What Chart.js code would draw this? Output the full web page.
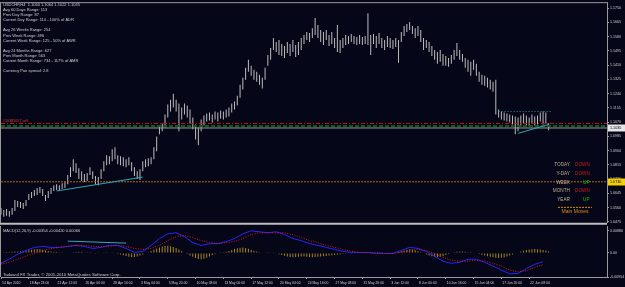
<!DOCTYPE html>
<html lang="en">
<head>
<meta charset="UTF-8">
<title>USDCHF,H4</title>
<script src="https://cdn.jsdelivr.net/npm/chart.js"></script>
<style>
  html, body { margin: 0; padding: 0; background: #060619; overflow: hidden; }
  #wrap { position: relative; width: 625px; height: 287px; }
  .pane { position: absolute; left: 0; width: 625px; }
  #mainPane { top: 0; height: 226px; }
  #macdPane { top: 222px; height: 65px; }
</style>
</head>
<body>
<div id="wrap">
  <div class="pane" id="mainPane"><canvas id="mainChart" width="625" height="226"></canvas></div>
  <div class="pane" id="macdPane"><canvas id="macdChart" width="625" height="65"></canvas></div>
</div>
<script>
// H4 bars, high / low
const barHigh = [
  1.0558, 1.0546, 1.0552, 1.0540, 1.0558, 1.0605, 1.0599, 1.0594, 1.0588, 1.0605,
  1.0641, 1.0653, 1.0665, 1.0677, 1.0683, 1.0671, 1.0635, 1.0659, 1.0677, 1.0694,
  1.0700, 1.0694, 1.0706, 1.0712, 1.0754, 1.0801, 1.0849, 1.0825, 1.0795, 1.0777,
  1.0760, 1.0766, 1.0801, 1.0777, 1.0748, 1.0742, 1.0789, 1.0837, 1.0872, 1.0866,
  1.0908, 1.0920, 1.0872, 1.0866, 1.0860, 1.0849, 1.0860, 1.0831, 1.0801, 1.0777,
  1.0789, 1.0837, 1.0849, 1.0855, 1.0860, 1.0920, 1.0985, 1.1050, 1.1062, 1.1115,
  1.1175, 1.1204, 1.1240, 1.1204, 1.1181, 1.1157, 1.1181, 1.1169, 1.1145, 1.1098,
  1.1056, 1.1038, 1.1086, 1.1110, 1.1121, 1.1127, 1.1115, 1.1133, 1.1127, 1.1139,
  1.1133, 1.1145, 1.1157, 1.1181, 1.1193, 1.1228, 1.1293, 1.1335, 1.1394, 1.1442,
  1.1406, 1.1382, 1.1370, 1.1353, 1.1335, 1.1394, 1.1471, 1.1513, 1.1572, 1.1548,
  1.1560, 1.1537, 1.1525, 1.1548, 1.1537, 1.1560, 1.1531, 1.1548, 1.1572, 1.1590,
  1.1608, 1.1602, 1.1631, 1.1691, 1.1649, 1.1620, 1.1608, 1.1620, 1.1590, 1.1608,
  1.1572, 1.1649, 1.1560, 1.1572, 1.1590, 1.1584, 1.1596, 1.1584, 1.1578, 1.1590,
  1.1578, 1.1584, 1.1720, 1.1590, 1.1596, 1.1584, 1.1602, 1.1572, 1.1560, 1.1584,
  1.1572, 1.1560, 1.1572, 1.1560, 1.1608, 1.1643, 1.1655, 1.1667, 1.1643, 1.1631,
  1.1643, 1.1620, 1.1572, 1.1560, 1.1548, 1.1525, 1.1501, 1.1489, 1.1501, 1.1477,
  1.1465, 1.1453, 1.1471, 1.1501, 1.1542, 1.1501, 1.1477, 1.1453, 1.1442, 1.1430,
  1.1442, 1.1418, 1.1370, 1.1353, 1.1347, 1.1335, 1.1323, 1.1311, 1.1323, 1.1145,
  1.1133, 1.1127, 1.1121, 1.1115, 1.1110, 1.1104, 1.1098, 1.1110, 1.1121, 1.1110,
  1.1098, 1.1115, 1.1104, 1.1110, 1.1127, 1.1133, 1.1127, 1.1064
];
const barLow = [
  1.0517, 1.0505, 1.0511, 1.0505, 1.0517, 1.0540, 1.0564, 1.0558, 1.0552, 1.0570,
  1.0605, 1.0617, 1.0629, 1.0635, 1.0647, 1.0629, 1.0599, 1.0617, 1.0641, 1.0659,
  1.0665, 1.0659, 1.0671, 1.0677, 1.0700, 1.0742, 1.0777, 1.0766, 1.0730, 1.0718,
  1.0712, 1.0718, 1.0754, 1.0730, 1.0700, 1.0694, 1.0730, 1.0777, 1.0813, 1.0819,
  1.0837, 1.0849, 1.0819, 1.0813, 1.0807, 1.0801, 1.0813, 1.0777, 1.0748, 1.0730,
  1.0724, 1.0777, 1.0801, 1.0807, 1.0819, 1.0849, 1.0896, 1.0997, 1.1015, 1.1038,
  1.1098, 1.1133, 1.1157, 1.1133, 1.1015, 1.1086, 1.1115, 1.1098, 1.1062, 1.1027,
  1.0967, 1.0932, 1.1015, 1.1050, 1.1074, 1.1080, 1.1068, 1.1086, 1.1074, 1.1092,
  1.1086, 1.1098, 1.1104, 1.1127, 1.1145, 1.1169, 1.1216, 1.1264, 1.1323, 1.1370,
  1.1347, 1.1323, 1.1311, 1.1293, 1.1270, 1.1323, 1.1406, 1.1442, 1.1501, 1.1489,
  1.1471, 1.1465, 1.1453, 1.1483, 1.1465, 1.1489, 1.1459, 1.1471, 1.1501, 1.1537,
  1.1560, 1.1548, 1.1572, 1.1590, 1.1572, 1.1548, 1.1531, 1.1560, 1.1525, 1.1537,
  1.1513, 1.1489, 1.1483, 1.1513, 1.1531, 1.1537, 1.1548, 1.1537, 1.1531, 1.1537,
  1.1531, 1.1537, 1.1531, 1.1471, 1.1537, 1.1513, 1.1537, 1.1513, 1.1501, 1.1519,
  1.1513, 1.1507, 1.1519, 1.1424, 1.1548, 1.1584, 1.1608, 1.1620, 1.1596, 1.1572,
  1.1584, 1.1548, 1.1501, 1.1513, 1.1489, 1.1465, 1.1442, 1.1418, 1.1430, 1.1406,
  1.1406, 1.1400, 1.1418, 1.1442, 1.1465, 1.1442, 1.1430, 1.1394, 1.1370, 1.1347,
  1.1382, 1.1347, 1.1311, 1.1293, 1.1287, 1.1276, 1.1264, 1.1252, 1.1115, 1.1098,
  1.1086, 1.1080, 1.1074, 1.1068, 1.1056, 1.0997, 1.1015, 1.1044, 1.1062, 1.1050,
  1.1044, 1.1062, 1.1050, 1.1056, 1.1074, 1.1056, 1.1062, 1.1022
];

// MACD(12,26,9): main and signal sampled every 3rd bar, histogram per bar
const macdMain = [
  -0.0041, -0.0025, -0.0005, 0.0010, 0.0022, 0.0026, 0.0022, 0.0022, 0.0026, 0.0030,
  0.0026, 0.0018, 0.0022, 0.0030, 0.0030, 0.0018, 0.0002, 0.0006, 0.0030, 0.0057,
  0.0076, 0.0080, 0.0065, 0.0041, 0.0030, 0.0037, 0.0037, 0.0045, 0.0057, 0.0076,
  0.0088, 0.0084, 0.0080, 0.0084, 0.0073, 0.0057, 0.0049, 0.0037, 0.0030, 0.0022,
  0.0014, 0.0006, 0.0002, 0.0002, 0.0002, -0.0002, -0.0002, -0.0002, 0.0010, 0.0022,
  0.0018, 0.0006, -0.0013, -0.0033, -0.0041, -0.0037, -0.0025, -0.0025, -0.0037, -0.0052,
  -0.0068, -0.0083, -0.0081, -0.0062, -0.0045, -0.0035
];
const macdSignal = [
  -0.0044, -0.0037, -0.0025, -0.0013, -0.0002, 0.0010, 0.0018, 0.0022, 0.0026, 0.0030,
  0.0030, 0.0026, 0.0026, 0.0026, 0.0030, 0.0026, 0.0018, 0.0014, 0.0018, 0.0030,
  0.0049, 0.0065, 0.0069, 0.0061, 0.0049, 0.0041, 0.0037, 0.0041, 0.0045, 0.0057,
  0.0073, 0.0080, 0.0080, 0.0080, 0.0080, 0.0073, 0.0061, 0.0049, 0.0041, 0.0030,
  0.0022, 0.0014, 0.0006, 0.0002, 0.0002, 0.0002, -0.0002, -0.0002, 0.0002, 0.0010,
  0.0014, 0.0010, -0.0002, -0.0017, -0.0029, -0.0033, -0.0033, -0.0029, -0.0033, -0.0041,
  -0.0052, -0.0068, -0.0075, -0.0070, -0.0058, -0.0046
];
const macdHist = [
  0.0002, 0.0003, 0.0004, 0.0004, 0.0005, 0.0006, 0.0006, 0.0007, 0.0008, 0.0009,
  0.0011, 0.0013, 0.0015, 0.0016, 0.0015, 0.0013,
  0.0010, 0.0008, 0.0006, 0.0005, 0.0004, 0.0003, 0.0003, 0.0002, 0.0002,
  0.0002, 0.0003, 0.0004, 0.0005, 0.0004, 0.0002, 0.0001, 0.0001, 0.0000, -0.0001, 0.0001, 0.0002, 0.0003, 0.0003, 0.0002, 0.0001,
  -0.0002, -0.0004, -0.0006, -0.0009, -0.0012, -0.0015, -0.0017, -0.0016, -0.0014, -0.0010,
  -0.0006, -0.0002, 0.0003, 0.0008, 0.0013,
  0.0018, 0.0022, 0.0026, 0.0028, 0.0029, 0.0027, 0.0024, 0.0020,
  0.0014, 0.0008, 0.0002, -0.0004, -0.0010,
  -0.0015, -0.0020, -0.0024, -0.0025, -0.0023, -0.0019, -0.0014,
  -0.0009, -0.0005, -0.0002, 0.0001, 0.0003, 0.0005, 0.0008,
  0.0012, 0.0016, 0.0019, 0.0021, 0.0022, 0.0020, 0.0017, 0.0013,
  0.0009, 0.0006, 0.0003, 0.0002, 0.0002, 0.0003, 0.0002,
  0.0001, -0.0002, -0.0005, -0.0008, -0.0011, -0.0014, -0.0016, -0.0017, -0.0016, -0.0015, -0.0014,
  -0.0014, -0.0015, -0.0016, -0.0017, -0.0016, -0.0015, -0.0014, -0.0013, -0.0012, -0.0010, -0.0009, -0.0008, -0.0007, -0.0006, -0.0004, -0.0003, -0.0002,
  -0.0001, 0.0000, 0.0001, 0.0001, 0.0002, 0.0001, 0.0000, -0.0001, -0.0001, 0.0000, 0.0001, 0.0001, 0.0000, -0.0001, 0.0000, 0.0001, 0.0002, 0.0004,
  0.0007, 0.0010, 0.0013, 0.0015, 0.0014, 0.0011, 0.0007, 0.0003,
  -0.0002, -0.0006, -0.0010, -0.0013, -0.0015, -0.0016, -0.0015, -0.0012, -0.0008, -0.0004,
  0.0000, 0.0003, 0.0005, 0.0006, 0.0006, 0.0005, 0.0003, 0.0001, 0.0000,
  -0.0002, -0.0004, -0.0007, -0.0010, -0.0013, -0.0015, -0.0017, -0.0019, -0.0020, -0.0019, -0.0017, -0.0014, -0.0010, -0.0006, -0.0002, 0.0002,
  0.0006, 0.0009, 0.0012, 0.0014, 0.0015, 0.0016, 0.0015, 0.0014, 0.0012, 0.0010, 0.0007
];

const priceTicks = [1.1750, 1.1665, 1.1580, 1.1495, 1.1410, 1.1325, 1.1240, 1.1155, 1.1070,
  1.0985, 1.0900, 1.0815, 1.0730, 1.0645, 1.0560, 1.0475];
const macdTicks = [-0.00954, 0, 0.00880];
const timeLabels = ['14 Apr 2010', '18 Apr 23:00', '21 Apr 12:00', '26 Apr 00:00', '28 Apr 16:00',
  '3 May 04:00', '5 May 20:00', '10 May 08:00', '13 May 00:00', '17 May 12:00', '20 May 04:00',
  '24 May 16:00', '27 May 08:00', '31 May 20:00', '3 Jun 12:00', '8 Jun 00:00', '10 Jun 16:00',
  '15 Jun 04:00', '17 Jun 20:00', '22 Jun 08:00'];
const timeTickBars = [0, 10, 20, 30, 40, 50, 60, 70, 80, 90, 100, 110, 120, 130, 140, 150, 160, 170, 180, 190];

// chart objects
const orderLevel = 1.1062;
const stopLevel = 1.1047;
const bidLevel = 1.1035;
const weekLevel = 1.0714;
const trendLow = [{ x: 20, y: 1.0659 }, { x: 51, y: 1.0742 }];
const trendEnd = [{ x: 186, y: 1.1003 }, { x: 197, y: 1.1056 }];
const rangeTop = [{ x: 179, y: 1.1133 }, { x: 198, y: 1.1133 }];
const macdTrend = [{ x: 24, y: 0.0047 }, { x: 45, y: 0.0039 }];

const infoLines = ['USDCHF,H4  1.1060 1.1064 1.1022 1.1035', 'Avg 60 Days Range: 113', 'Prev Day Range: 87',
  'Current Day Range: 114 - 100% of ADR', '', 'Avg 26 Weeks Range: 254', 'Prev Week Range: 496',
  'Current Week Range: 125 - 50% of AWR', '', 'Avg 24 Months Range: 627', 'Prev Month Range: 563',
  'Current Month Range: 734 - 117% of AMR', '', 'Currency Pair spread: 2.8'];
const moveRows = [['TODAY', 'DOWN'], ['Y-DAY', 'DOWN'], ['WEEK', 'UP'], ['MONTH', 'DOWN'], ['YEAR', 'UP']];

const FONT = '"Liberation Sans", Arial, sans-serif';
const AXIS = '#9a9a9a';
const TXT = '#cfcfcf';
const X_MAX = 218;

function levelLine(value, color, dash, width) {
  return {
    type: 'line', data: [{ x: 0, y: value }, { x: X_MAX, y: value }],
    borderColor: color, borderDash: dash, borderWidth: width, pointRadius: 0, order: 1
  };
}
function segment(points, color, dash) {
  return { type: 'line', data: points, borderColor: color, borderDash: dash, borderWidth: 1, pointRadius: 0, order: 0 };
}

const mainOverlay = {
  id: 'mainOverlay',
  afterDraw(chart) {
    const { ctx, chartArea: a, scales: { y } } = chart;
    ctx.save();
    ctx.strokeStyle = AXIS;
    ctx.lineWidth = 1;
    ctx.beginPath();
    ctx.moveTo(0, a.top - 0.5); ctx.lineTo(a.right + 1, a.top - 0.5);
    ctx.moveTo(0.5, a.top); ctx.lineTo(0.5, a.bottom);
    ctx.stroke();
    ctx.strokeStyle = '#bdbdbd';
    ctx.lineWidth = 2;
    ctx.beginPath(); ctx.moveTo(0, a.bottom + 1); ctx.lineTo(a.right, a.bottom + 1); ctx.stroke();

    ctx.textBaseline = 'middle';
    ctx.textAlign = 'left';
    ctx.font = '4px ' + FONT;
    ctx.fillStyle = TXT;
    infoLines.forEach((t, i) => { if (t) ctx.fillText(t, a.left + 2, a.top + 1.5 + i * 5.13); });

    ctx.font = '3.7px ' + FONT;
    ctx.fillStyle = '#d04040';
    ctx.fillText('#10385057 sell', a.left + 2, y.getPixelForValue(orderLevel) - 2);

    // price markers on the axis
    [[bidLevel, '1.1035', '#e6e6e6'], [weekLevel, '1.0730', '#f2d000']].forEach(([v, t, bg]) => {
      const py = Math.round(y.getPixelForValue(v));
      ctx.fillStyle = bg;
      ctx.fillRect(a.right + 1, py - 3.5, 17, 7);
      ctx.fillStyle = '#000';
      ctx.font = '3.7px ' + FONT;
      ctx.fillText(t, a.right + 3, py);
    });

    // main moves panel
    const rowY = [-58, -49, -40.5, -32, -23];
    moveRows.forEach(([k, v], i) => {
      ctx.font = '4.7px ' + FONT;
      ctx.textAlign = 'right';
      ctx.fillStyle = '#bfae8e';
      ctx.fillText(k, a.right - 37, a.bottom + rowY[i]);
      ctx.textAlign = 'left';
      ctx.fillStyle = v === 'UP' ? '#14c014' : '#d01818';
      ctx.fillText(v, v === 'UP' ? a.right - 24 : a.right - 32, a.bottom + rowY[i]);
    });
    ctx.strokeStyle = '#e08c10';
    ctx.lineWidth = 1;
    ctx.setLineDash([2, 1]);
    ctx.beginPath(); ctx.moveTo(a.right - 49, a.bottom - 15.5); ctx.lineTo(a.right - 15, a.bottom - 15.5); ctx.stroke();
    ctx.setLineDash([]);
    ctx.font = '5px ' + FONT;
    ctx.textAlign = 'center';
    ctx.fillStyle = '#e08c10';
    ctx.fillText('Main Moves', a.right - 32, a.bottom - 11.5);
    ctx.restore();
  }
};

const macdOverlay = {
  id: 'macdOverlay',
  afterDraw(chart) {
    const { ctx, chartArea: a, scales: { x } } = chart;
    ctx.save();
    ctx.strokeStyle = AXIS;
    ctx.lineWidth = 1;
    ctx.beginPath(); ctx.moveTo(0.5, a.top); ctx.lineTo(0.5, a.bottom); ctx.stroke();
    ctx.textBaseline = 'middle';
    ctx.textAlign = 'left';
    ctx.fillStyle = TXT;
    ctx.font = '4px ' + FONT;
    ctx.fillText('MACD(12,26,9) -0.00354 -0.00420 0.00066', a.left + 2, a.top + 5);
    ctx.font = '4.3px ' + FONT;
    ctx.fillText('Tadawul FX Trader, \u00a9 2001-2010 MetaQuotes Software Corp.', a.left + 2, a.bottom - 2);
    // time labels start just right of their tick, MT4 style
    ctx.font = '3.4px ' + FONT;
    timeTickBars.forEach((b, i) => ctx.fillText(timeLabels[i], x.getPixelForValue(b) + 1, a.bottom + 6));
    ctx.restore();
  }
};

Chart.defaults.font.family = FONT;

new Chart(document.getElementById('mainChart'), {
  type: 'bar',
  data: {
    datasets: [
      {
        type: 'bar', data: barHigh.map((h, i) => ({ x: i, y: [barLow[i], h] })),
        backgroundColor: '#bcbcbc', barThickness: 1, inflateAmount: 0, order: 2
      },
      levelLine(weekLevel, '#b0661a', [2, 1], 1),
      levelLine(stopLevel, '#0b5e12', [4, 2], 2),
      levelLine(orderLevel, '#d01010', [4, 2, 1, 2], 1),
      levelLine(bidLevel, '#9a9a9a', [], 1),
      segment(trendLow, '#2fa8b8', []),
      segment(trendEnd, '#2fa8b8', []),
      segment(rangeTop, '#2a9aa8', [1, 2])
    ]
  },
  options: {
    responsive: false,
    animation: false,
    layout: { padding: { top: 3, left: 1, right: 0, bottom: 2 } },
    plugins: { legend: { display: false }, tooltip: { enabled: false } },
    scales: {
      x: { type: 'linear', min: 0, max: X_MAX, offset: false, display: false },
      y: {
        position: 'right', min: 1.0469, max: 1.1780,
        afterFit(s) { s.width = 18; },
        afterBuildTicks(s) { s.ticks = priceTicks.map(v => ({ value: v })); },
        ticks: { callback: v => v.toFixed(4), color: TXT, font: { size: 3.6 }, padding: 1, autoSkip: false },
        grid: { drawOnChartArea: false, tickLength: 2, color: AXIS },
        border: { color: AXIS }
      }
    }
  },
  plugins: [mainOverlay]
});

new Chart(document.getElementById('macdChart'), {
  type: 'bar',
  data: {
    datasets: [
      {
        type: 'bar', data: macdHist.map((v, i) => ({ x: i, y: v })),
        backgroundColor: '#a8881c', barThickness: 1, inflateAmount: 0, order: 3
      },
      {
        type: 'line', data: macdMain.map((v, k) => ({ x: k * 3, y: v })),
        borderColor: '#2626ff', borderWidth: 1, pointRadius: 0, order: 2
      },
      {
        type: 'line', data: macdSignal.map((v, k) => ({ x: k * 3, y: v })),
        borderColor: '#e01818', borderDash: [1, 1.5], borderWidth: 1, pointRadius: 0, order: 1
      },
      segment(macdTrend, '#2fa8b8', [])
    ]
  },
  options: {
    responsive: false,
    animation: false,
    layout: { padding: { top: 4, left: 1, right: 0, bottom: 0 } },
    plugins: { legend: { display: false }, tooltip: { enabled: false } },
    scales: {
      x: {
        type: 'linear', min: 0, max: X_MAX, offset: false,
        afterFit(s) { s.height = 10; },
        afterBuildTicks(s) { s.ticks = timeTickBars.map(v => ({ value: v })); },
        ticks: { display: false, autoSkip: false },
        grid: { drawOnChartArea: false, offset: false, tickLength: 2, color: AXIS },
        border: { color: AXIS }
      },
      y: {
        position: 'right', min: -0.00954, max: 0.0107,
        afterFit(s) { s.width = 18; },
        afterBuildTicks(s) { s.ticks = macdTicks.map(v => ({ value: v })); },
        ticks: {
          callback: v => (v === 0 ? '0.00' : v.toFixed(5)), color: TXT, font: { size: 3.6 }, padding: 1, autoSkip: false
        },
        grid: { drawOnChartArea: false, tickLength: 2, color: AXIS },
        border: { color: AXIS }
      }
    }
  },
  plugins: [macdOverlay]
});
</script>
</body>
</html>
